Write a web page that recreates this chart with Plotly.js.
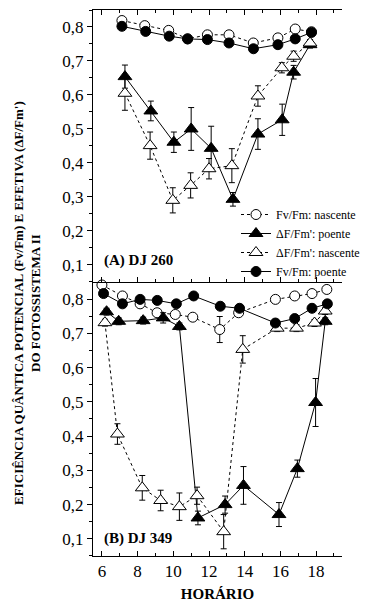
<!DOCTYPE html>
<html>
<head>
<meta charset="utf-8">
<script src="https://cdn.plot.ly/plotly-3.0.1.min.js"></script>
<style>html,body{margin:0;padding:0;background:#fff;overflow:hidden}</style>
</head>
<body>
<div id="chart" style="width:365px;height:603px"></div>
<script>
// ---- Data: panel A (DJ 260) ----
const A_circO_x = [7.12, 8.40, 9.74, 10.80, 11.91, 13.12, 14.48, 15.86, 16.83, 17.74];
const A_circO_y = [0.819, 0.804, 0.790, 0.765, 0.777, 0.777, 0.753, 0.768, 0.794, 0.786];
const A_circO_e = [0.008, 0.008, 0.010, 0.010, 0.010, 0.010, 0.010, 0.010, 0.010, 0.010];
const A_triF_x = [7.29, 8.74, 10.03, 11.00, 12.12, 13.34, 14.74, 16.10, 16.74, 17.66];
const A_triF_y = [0.654, 0.553, 0.461, 0.500, 0.443, 0.293, 0.485, 0.527, 0.667, 0.748];
const A_triF_e = [0.034, 0.029, 0.030, 0.063, 0.065, 0.020, 0.045, 0.046, 0.020, 0.010];
const A_triO_x = [7.29, 8.70, 9.97, 10.97, 12.00, 13.28, 14.74, 16.08, 16.74, 17.66];
const A_triO_y = [0.605, 0.451, 0.290, 0.334, 0.383, 0.392, 0.597, 0.680, 0.714, 0.753];
const A_triO_e = [0.050, 0.040, 0.037, 0.037, 0.030, 0.050, 0.030, 0.015, 0.015, 0.010];
const A_circF_x = [7.12, 8.45, 9.77, 10.80, 11.91, 13.12, 14.49, 15.86, 16.83, 17.74];
const A_circF_y = [0.802, 0.787, 0.773, 0.765, 0.763, 0.753, 0.736, 0.748, 0.765, 0.784];

// ---- Data: panel B (DJ 349) ----
const B_circO_x = [6.00, 7.15, 8.14, 9.09, 10.11, 11.09, 12.60, 13.66, 15.72, 16.80, 17.77, 18.60];
const B_circO_y = [0.841, 0.809, 0.786, 0.760, 0.755, 0.747, 0.711, 0.760, 0.799, 0.809, 0.816, 0.828];
const B_circO_e = [0.010, 0.010, 0.010, 0.005, 0.005, 0.005, 0.038, 0.005, 0.010, 0.010, 0.010, 0.010];
const B_triF_x = [6.26, 6.94, 8.31, 9.43, 10.34, 11.38, 12.90, 13.93, 15.92, 16.95, 17.97, 18.51];
const B_triF_y = [0.763, 0.735, 0.737, 0.745, 0.720, 0.161, 0.200, 0.256, 0.171, 0.305, 0.498, 0.735];
const B_triF_e = [0.010, 0.010, 0.010, 0.015, 0.010, 0.020, 0.025, 0.055, 0.035, 0.025, 0.070, 0.010];
const B_triO_x = [6.17, 6.87, 8.26, 9.29, 10.34, 11.33, 12.82, 13.89, 15.82, 16.90, 17.91, 18.51];
const B_triO_y = [0.731, 0.406, 0.249, 0.212, 0.194, 0.226, 0.121, 0.653, 0.715, 0.715, 0.730, 0.765];
const B_triO_e = [0.010, 0.030, 0.036, 0.030, 0.040, 0.025, 0.050, 0.040, 0.010, 0.010, 0.010, 0.010];
const B_circF_x = [6.09, 7.15, 8.14, 9.10, 10.17, 11.14, 12.63, 13.71, 15.72, 16.80, 17.77, 18.63];
const B_circF_y = [0.816, 0.786, 0.799, 0.796, 0.786, 0.809, 0.779, 0.773, 0.730, 0.743, 0.773, 0.786];

// ---- Labels ----
const seriesNames = ["Fv/Fm: nascente", "\u0394F/Fm': poente", "\u0394F/Fm': nascente", "Fv/Fm: poente"];
const yTickVals = [0.1, 0.2, 0.3, 0.4, 0.5, 0.6, 0.7, 0.8];
const yTickText = ["0,1", "0,2", "0,3", "0,4", "0,5", "0,6", "0,7", "0,8"];
const xTickVals = [6, 8, 10, 12, 14, 16, 18];
const panelLabels = ["(A) DJ 260", "(B) DJ 349"];
const xTitle = "HOR\u00C1RIO";
const yTitle = "EFICI\u00CANCIA QU\u00C2NTICA POTENCIAL (Fv/Fm) E EFETIVA (\u0394F/Fm')<br>DO FOTOSSISTEMA II";

const FONT = '"Liberation Serif", "Times New Roman", Times, serif';

function err(arr) {
  return {type: 'data', array: arr, visible: true, color: '#000', thickness: 1, width: 3};
}
function styleOf(k) {
  // 0: open circle dotted, 1: filled triangle solid, 2: open triangle dotted, 3: filled circle solid
  const open = (k === 0 || k === 2);
  const tri = (k === 1 || k === 2);
  return {
    line: {color: '#000', width: 1, dash: open ? 'dot' : 'solid'},
    marker: {
      symbol: tri ? 'triangle-up' : 'circle',
      size: tri ? 12 : 10,
      color: open ? '#fff' : '#000',
      line: {color: '#000', width: 1}
    }
  };
}
function tr(k, x, y, e, xa, ya, legend) {
  const s = styleOf(k);
  const t = {
    x: x, y: y, type: 'scatter', mode: 'lines+markers',
    name: seriesNames[k], line: s.line, marker: s.marker,
    xaxis: xa, yaxis: ya, showlegend: legend, cliponaxis: false
  };
  if (e) t.error_y = err(e);
  return t;
}

const data = [
  tr(0, A_circO_x, A_circO_y, A_circO_e, 'x2', 'y2', true),
  tr(1, A_triF_x, A_triF_y, A_triF_e, 'x2', 'y2', true),
  tr(2, A_triO_x, A_triO_y, A_triO_e, 'x2', 'y2', true),
  tr(3, A_circF_x, A_circF_y, null, 'x2', 'y2', true),
  tr(0, B_circO_x, B_circO_y, B_circO_e, 'x', 'y', false),
  tr(1, B_triF_x, B_triF_y, B_triF_e, 'x', 'y', false),
  tr(2, B_triO_x, B_triO_y, B_triO_e, 'x', 'y', false),
  tr(3, B_circF_x, B_circF_y, null, 'x', 'y', false)
];

const xCommon = {
  range: [5.5, 19.45], tickvals: xTickVals, ticks: 'inside', ticklen: 5, tickwidth: 1, tickcolor: '#000',
  minor: {dtick: 1, tick0: 5, ticks: 'inside', ticklen: 3, tickcolor: '#000', showgrid: false},
  showline: true, linecolor: '#000', linewidth: 1, showgrid: false, zeroline: false,
  tickfont: {family: FONT, size: 17, color: '#000'}
};
const yCommon = {
  range: [0.05, 0.85], tickvals: yTickVals, ticktext: yTickText, ticks: 'outside', ticklen: 5, tickwidth: 1, tickcolor: '#000',
  minor: {dtick: 0.05, tick0: 0.05, ticks: 'outside', ticklen: 3, tickcolor: '#000', showgrid: false},
  showline: true, linecolor: '#000', linewidth: 1, showgrid: false, zeroline: false, mirror: false,
  tickfont: {family: FONT, size: 17, color: '#000'}
};

const layout = {
  width: 365, height: 603,
  margin: {l: 93, r: 0, t: 10, b: 47},
  paper_bgcolor: '#fff', plot_bgcolor: 'rgba(0,0,0,0)',
  font: {family: FONT, color: '#000'},
  showlegend: true,
  legend: {
    x: 0.575, y: 0.652, xanchor: 'left', yanchor: 'top', xref: 'paper', yref: 'paper',
    bgcolor: 'rgba(0,0,0,0)', borderwidth: 0,
    font: {family: FONT, size: 12, color: '#000'},
    tracegroupgap: 0, itemwidth: 30
  },
  xaxis: Object.assign({}, xCommon, {anchor: 'y', domain: [0, 1],
    title: {text: '<b>' + xTitle + '</b>', font: {family: FONT, size: 15, color: '#000'}, standoff: 8}}),
  yaxis: Object.assign({}, yCommon, {anchor: 'x', domain: [0, 0.502]}),
  xaxis2: Object.assign({}, xCommon, {anchor: 'y2', matches: 'x', showticklabels: false, mirror: 'allticks'}),
  yaxis2: Object.assign({}, yCommon, {anchor: 'x2', domain: [0.502, 1]}),
  annotations: [
    {text: '<b>' + panelLabels[0] + '</b>', xref: 'x2', yref: 'y2', x: 5.98, y: 0.114, xanchor: 'left', yanchor: 'middle',
     showarrow: false, font: {family: FONT, size: 15, color: '#000'}},
    {text: '<b>' + panelLabels[1] + '</b>', xref: 'x', yref: 'y', x: 5.98, y: 0.10, xanchor: 'left', yanchor: 'middle',
     showarrow: false, font: {family: FONT, size: 15, color: '#000'}},
    {text: '<b>' + yTitle + '</b>', xref: 'paper', yref: 'paper', x: -0.268, y: 0.464, xanchor: 'center', yanchor: 'middle',
     textangle: -90, showarrow: false, font: {family: FONT, size: 13, color: '#000'}}
  ]
};

Plotly.newPlot('chart', data, layout, {displayModeBar: false, staticPlot: true});
</script>
</body>
</html>
